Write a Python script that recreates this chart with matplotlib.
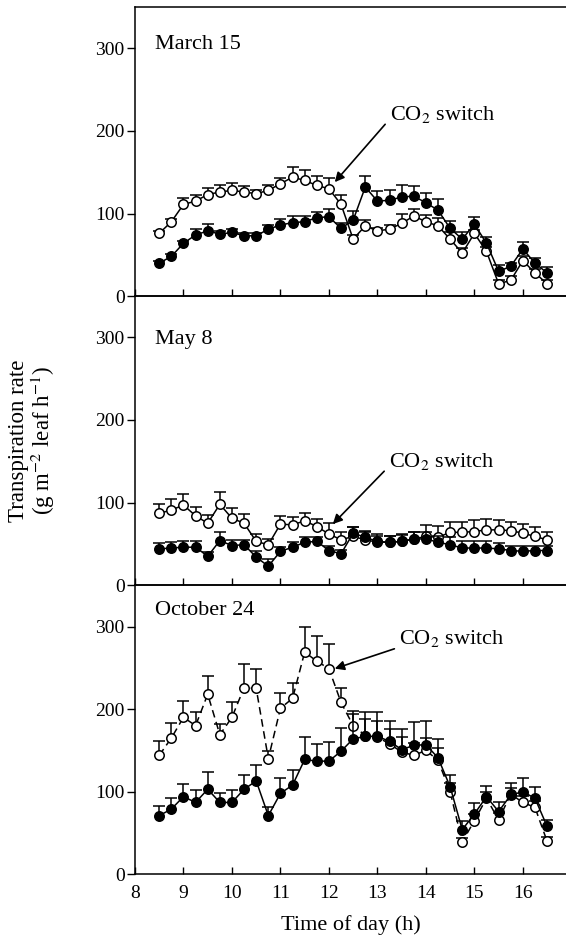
import numpy as np
import matplotlib
matplotlib.use('Agg')
import matplotlib.pyplot as plt

plt.rcParams['font.family'] = ['Liberation Serif', 'DejaVu Serif']
plt.rcParams['mathtext.fontset'] = 'stix'

# sampling times (h)
times = [8.5, 8.75, 9.0, 9.25, 9.5, 9.75, 10.0, 10.25, 10.5, 10.75, 11.0,
         11.25, 11.5, 11.75, 12.0, 12.25, 12.5, 12.75, 13.0, 13.25, 13.5,
         13.75, 14.0, 14.25, 14.5, 14.75, 15.0, 15.25, 15.5, 15.75, 16.0,
         16.25, 16.5]

# March 15
mar_open = [76, 90, 111, 115, 123, 126, 128, 126, 124, 128, 136, 144, 140, 134, 130,
            111, 69, 85, 79, 81, 88, 97, 90, 85, 69, 52, 76, 54, 15, 19, 43, 28, 15]
mar_open_err = [3, 3, 8, 7, 8, 9, 9, 7, 5, 6, 7, 12, 13, 11, 13,
                11, 5, 7, 4, 5, 12, 9, 8, 9, 8, 6, 4, 5, 5, 5, 6, 5, 5]
mar_filled = [40, 48, 64, 74, 79, 75, 77, 73, 73, 81, 86, 89, 90, 95, 96,
              82, 92, 132, 115, 116, 120, 121, 113, 104, 82, 69, 87, 64, 30, 36, 57, 40, 28]
mar_filled_err = [3, 3, 3, 7, 8, 4, 4, 3, 3, 5, 7, 8, 7, 7, 9,
                  7, 11, 14, 12, 13, 15, 12, 12, 14, 9, 9, 9, 7, 8, 4, 8, 6, 7]

# May 8
may_open = [87, 91, 97, 84, 75, 98, 81, 75, 53, 49, 74, 73, 78, 71, 62,
            55, 59, 55, 52, 52, 53, 56, 59, 58, 64, 64, 65, 67, 67, 66, 63, 59, 55]
may_open_err = [11, 13, 13, 11, 10, 15, 13, 11, 9, 7, 10, 9, 10, 9, 13,
                10, 11, 10, 8, 8, 8, 9, 14, 14, 12, 13, 14, 13, 12, 10, 11, 11, 10]
may_filled = [44, 45, 46, 46, 35, 54, 48, 49, 34, 23, 41, 46, 52, 53, 42,
              38, 63, 58, 53, 52, 53, 56, 56, 52, 49, 45, 45, 45, 44, 42, 41, 42, 42]
may_filled_err = [7, 7, 7, 7, 5, 10, 7, 6, 7, 9, 5, 6, 6, 5, 6,
                  5, 7, 8, 9, 8, 9, 9, 9, 8, 9, 8, 8, 8, 7, 6, 6, 6, 5]

# October 24
oct_open = [144, 165, 190, 180, 218, 169, 190, 226, 225, 140, 201, 213, 269, 258, 249,
            208, 180, 168, 166, 158, 148, 144, 150, 138, 100, 39, 65, 92, 66, 97, 87, 81, 40]
oct_open_err = [17, 18, 20, 17, 22, 13, 19, 28, 23, 9, 19, 19, 30, 30, 30,
                17, 18, 20, 20, 18, 18, 15, 15, 15, 10, 5, 8, 8, 8, 8, 8, 8, 5]
oct_filled = [71, 79, 94, 87, 103, 87, 87, 103, 113, 71, 98, 108, 139, 137, 137,
              149, 164, 167, 167, 161, 151, 156, 157, 141, 106, 54, 73, 94, 76, 96, 100, 92, 58]
oct_filled_err = [12, 13, 15, 15, 21, 11, 15, 17, 19, 11, 19, 18, 27, 21, 23,
                  28, 30, 30, 30, 24, 25, 28, 29, 23, 14, 10, 13, 13, 11, 14, 16, 14, 8]

panel_names = ['March 15', 'May 8', 'October 24']
panel_label_y = [304, 297, 319]
# (text x, text y, arrow head x, arrow head y)
switch_notes = [(13.26, 220, 12.12, 138), (13.24, 150, 12.08, 74), (13.45, 285, 12.12, 249)]
yticks = [0, 100, 200, 300]
xticks = [8, 9, 10, 11, 12, 13, 14, 15, 16]

panels = [
    (mar_open, mar_open_err, mar_filled, mar_filled_err, '-'),
    (may_open, may_open_err, may_filled, may_filled_err, '-'),
    (oct_open, oct_open_err, oct_filled, oct_filled_err, (0, (5, 3))),
]


def draw_series(ax, y, err, filled, ls, z):
    y = np.array(y, dtype=float)
    err = np.array(err, dtype=float)
    ax.vlines(times, y, y + err, color='k', lw=1.1, zorder=z)
    ax.plot(times, y + err, ls='none', marker='_', ms=9, mew=1.1, color='k', zorder=z)
    ax.plot(times, y, ls=ls, lw=1.1, color='k', marker='o', ms=6.8, mew=1.1,
            mfc='k' if filled else 'white', mec='k', zorder=z + 0.5)


W, H = 566, 941
left_px, top_px, panel_h = 135, 7, 289.1

fig = plt.figure(figsize=(W / 100, H / 100), dpi=100)

for i, (yo, eo, yf, ef, ls) in enumerate(panels):
    bottom = 1 - (top_px + (i + 1) * panel_h) / H
    ax = fig.add_axes([left_px / W, bottom, 1 - left_px / W, panel_h / H])
    ax.patch.set_visible(False)

    draw_series(ax, yo, eo, False, ls, 2)
    draw_series(ax, yf, ef, True, '-', 4)

    ax.set_xlim(8, 16.89)
    ax.set_ylim(0, 350)
    ax.set_yticks(yticks)
    ax.set_xticks(xticks)
    ax.spines['right'].set_visible(False)
    for s in ax.spines.values():
        s.set_linewidth(1.1)
        s.set_color('k')
    ax.tick_params(axis='y', direction='out', length=6, width=1, pad=1.5, labelsize=14)
    ax.tick_params(axis='x', direction='in', length=5, width=1, pad=8, labelsize=14)
    if i < 2:
        ax.set_xticklabels([])

    ax.text(8.41, panel_label_y[i], panel_names[i], fontsize=16, va='center', ha='left')

    tx, ty, hx, hy = switch_notes[i]
    ax.text(tx, ty, 'CO$_2$ switch', fontsize=16, va='center', ha='left')
    ax.annotate('', xy=(hx, hy), xytext=(tx - 0.1, ty - 12),
                arrowprops=dict(arrowstyle='-|>', lw=1.2, color='k', mutation_scale=14,
                                shrinkA=0, shrinkB=0))

    if i == 2:
        ax.set_xlabel('Time of day (h)', fontsize=16, labelpad=9)

fig.text(0.057, 1 - (top_px + 1.5 * panel_h) / H,
         'Transpiration rate\n(g m$^{-2}$ leaf h$^{-1}$)',
         rotation=90, ha='center', va='center', fontsize=16.5, multialignment='center',
         linespacing=1.0)

fig.savefig('out.png', dpi=100)
